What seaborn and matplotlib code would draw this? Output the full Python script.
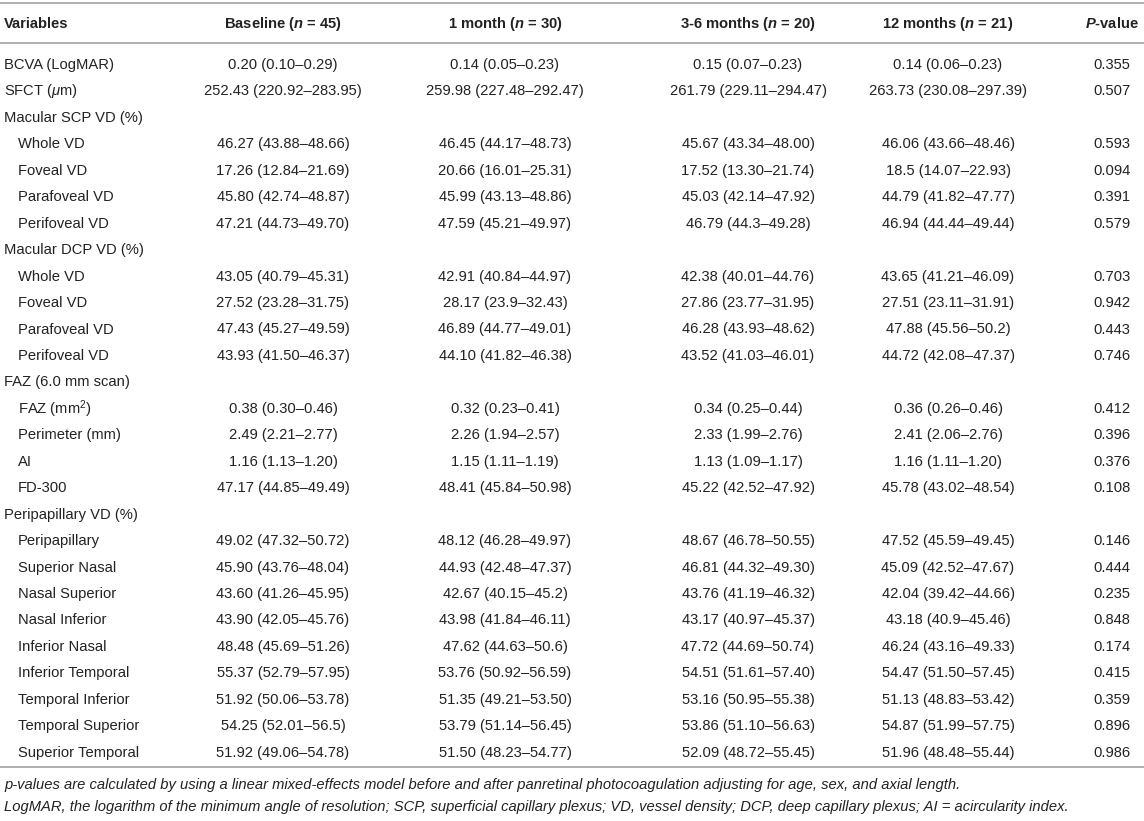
import matplotlib
matplotlib.use("Agg")
import matplotlib.pyplot as plt
import seaborn as sns

# table content
variables = [
    "BCVA (LogMAR)", r"SFCT ($\mu$m)", "Macular SCP VD (%)",
    "Whole VD", "Foveal VD", "Parafoveal VD", "Perifoveal VD",
    "Macular DCP VD (%)",
    "Whole VD", "Foveal VD", "Parafoveal VD", "Perifoveal VD",
    "FAZ (6.0 mm scan)",
    r"FAZ (mm$^{2}$)", "Perimeter (mm)", "AI", "FD-300",
    "Peripapillary VD (%)",
    "Peripapillary", "Superior Nasal", "Nasal Superior", "Nasal Inferior",
    "Inferior Nasal", "Inferior Temporal", "Temporal Inferior",
    "Temporal Superior", "Superior Temporal",
]
indented = [0, 0, 0, 1, 1, 1, 1, 0, 1, 1, 1, 1, 0, 1, 1, 1, 1, 0,
            1, 1, 1, 1, 1, 1, 1, 1, 1]

baseline = [
    "0.20 (0.10–0.29)", "252.43 (220.92–283.95)", "",
    "46.27 (43.88–48.66)", "17.26 (12.84–21.69)", "45.80 (42.74–48.87)", "47.21 (44.73–49.70)",
    "",
    "43.05 (40.79–45.31)", "27.52 (23.28–31.75)", "47.43 (45.27–49.59)", "43.93 (41.50–46.37)",
    "",
    "0.38 (0.30–0.46)", "2.49 (2.21–2.77)", "1.16 (1.13–1.20)", "47.17 (44.85–49.49)",
    "",
    "49.02 (47.32–50.72)", "45.90 (43.76–48.04)", "43.60 (41.26–45.95)", "43.90 (42.05–45.76)",
    "48.48 (45.69–51.26)", "55.37 (52.79–57.95)", "51.92 (50.06–53.78)", "54.25 (52.01–56.5)",
    "51.92 (49.06–54.78)",
]
month1 = [
    "0.14 (0.05–0.23)", "259.98 (227.48–292.47)", "",
    "46.45 (44.17–48.73)", "20.66 (16.01–25.31)", "45.99 (43.13–48.86)", "47.59 (45.21–49.97)",
    "",
    "42.91 (40.84–44.97)", "28.17 (23.9–32.43)", "46.89 (44.77–49.01)", "44.10 (41.82–46.38)",
    "",
    "0.32 (0.23–0.41)", "2.26 (1.94–2.57)", "1.15 (1.11–1.19)", "48.41 (45.84–50.98)",
    "",
    "48.12 (46.28–49.97)", "44.93 (42.48–47.37)", "42.67 (40.15–45.2)", "43.98 (41.84–46.11)",
    "47.62 (44.63–50.6)", "53.76 (50.92–56.59)", "51.35 (49.21–53.50)", "53.79 (51.14–56.45)",
    "51.50 (48.23–54.77)",
]
month3_6 = [
    "0.15 (0.07–0.23)", "261.79 (229.11–294.47)", "",
    "45.67 (43.34–48.00)", "17.52 (13.30–21.74)", "45.03 (42.14–47.92)", "46.79 (44.3–49.28)",
    "",
    "42.38 (40.01–44.76)", "27.86 (23.77–31.95)", "46.28 (43.93–48.62)", "43.52 (41.03–46.01)",
    "",
    "0.34 (0.25–0.44)", "2.33 (1.99–2.76)", "1.13 (1.09–1.17)", "45.22 (42.52–47.92)",
    "",
    "48.67 (46.78–50.55)", "46.81 (44.32–49.30)", "43.76 (41.19–46.32)", "43.17 (40.97–45.37)",
    "47.72 (44.69–50.74)", "54.51 (51.61–57.40)", "53.16 (50.95–55.38)", "53.86 (51.10–56.63)",
    "52.09 (48.72–55.45)",
]
month12 = [
    "0.14 (0.06–0.23)", "263.73 (230.08–297.39)", "",
    "46.06 (43.66–48.46)", "18.5 (14.07–22.93)", "44.79 (41.82–47.77)", "46.94 (44.44–49.44)",
    "",
    "43.65 (41.21–46.09)", "27.51 (23.11–31.91)", "47.88 (45.56–50.2)", "44.72 (42.08–47.37)",
    "",
    "0.36 (0.26–0.46)", "2.41 (2.06–2.76)", "1.16 (1.11–1.20)", "45.78 (43.02–48.54)",
    "",
    "47.52 (45.59–49.45)", "45.09 (42.52–47.67)", "42.04 (39.42–44.66)", "43.18 (40.9–45.46)",
    "46.24 (43.16–49.33)", "54.47 (51.50–57.45)", "51.13 (48.83–53.42)", "54.87 (51.99–57.75)",
    "51.96 (48.48–55.44)",
]
p_values = [
    "0.355", "0.507", "",
    "0.593", "0.094", "0.391", "0.579",
    "",
    "0.703", "0.942", "0.443", "0.746",
    "",
    "0.412", "0.396", "0.376", "0.108",
    "",
    "0.146", "0.444", "0.235", "0.848", "0.174", "0.415", "0.359", "0.896", "0.986",
]

headers = ["Variables", r"Baseline ($\mathbf{n}$ = 45)", r"1 month ($\mathbf{n}$ = 30)",
           r"3-6 months ($\mathbf{n}$ = 20)", r"12 months ($\mathbf{n}$ = 21)",
           r"$\mathbf{P}$-value"]
footnotes = [
    "p-values are calculated by using a linear mixed-effects model before and after "
    "panretinal photocoagulation adjusting for age, sex, and axial length.",
    "LogMAR, the logarithm of the minimum angle of resolution; SCP, superficial capillary "
    "plexus; VD, vessel density; DCP, deep capillary plexus; AI = acircularity index.",
]

sns.set_theme(style="white")
plt.rcParams["font.family"] = ["Liberation Sans", "DejaVu Sans"]
plt.rcParams["mathtext.fontset"] = "custom"
plt.rcParams["mathtext.rm"] = "Liberation Sans"
plt.rcParams["mathtext.it"] = "Liberation Sans:italic"
plt.rcParams["mathtext.bf"] = "Liberation Sans:italic:bold"

W, H = 1144, 821
fig = plt.figure(figsize=(W / 100, H / 100), dpi=100)
ax = fig.add_axes([0, 0, 1, 1])
ax.set_xlim(0, W)
ax.set_ylim(H, 0)
ax.axis("off")

txt = "#222222"
rule = "#a8a8a8"
fs = 10.6

col_x = [4, 283, 505, 748, 948, 1112]
col_ha = ["left", "center", "center", "center", "center", "center"]
columns = [baseline, month1, month3_6, month12, p_values]

header_y = 24
row0, step = 65, 26.45

for x, ha, h in zip(col_x, col_ha, headers):
    ax.text(x, header_y, h, ha=ha, va="center", fontsize=fs, fontweight="bold", color=txt)

for i, name in enumerate(variables):
    y = row0 + i * step
    ax.text(18 if indented[i] else 4, y, name, ha="left", va="center", fontsize=fs, color=txt)
    for x, col in zip(col_x[1:], columns):
        ax.text(x, y, col[i], ha="center", va="center", fontsize=fs, color=txt)

for y in (3, 43, 767):
    ax.plot([0, W], [y, y], color=rule, lw=1.3, solid_capstyle="butt")

for j, note in enumerate(footnotes):
    ax.text(4, 785 + j * 22, note, ha="left", va="center", fontsize=fs,
            fontstyle="italic", color=txt)

fig.savefig("out.png", dpi=100)
